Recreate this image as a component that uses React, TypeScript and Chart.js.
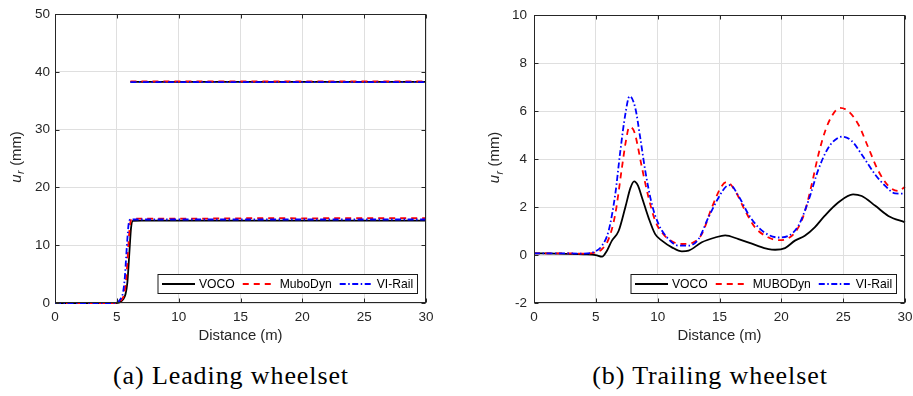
import React, { useEffect, useRef } from "react";
import { Chart, registerables } from "chart.js";

Chart.register(...registerables);

// ---------------- data ----------------
const X_TICKS = [0, 5, 10, 15, 20, 25, 30];
const Y_TICKS_LEAD = [0, 10, 20, 30, 40, 50];
const Y_TICKS_TRAIL = [-2, 0, 2, 4, 6, 8, 10];

const NAMES_LEAD = ["VOCO", "MuboDyn", "VI-Rail"];
const NAMES_TRAIL = ["VOCO", "MUBODyn", "VI-Rail"];

const CAPTION_LEAD = "(a) Leading wheelset";
const CAPTION_TRAIL = "(b) Trailing wheelset";

// (a) Leading wheelset – lower branch
const LEAD_VOCO_X = [0, 4.9, 5.2, 5.5, 5.7, 5.85, 5.95, 6.05, 6.15, 6.3, 7, 10, 15, 20, 25, 30];
const LEAD_VOCO_Y = [0, 0, 0.1, 0.6, 1.5, 3.5, 6.5, 10, 13, 14.2, 14.25, 14.25, 14.25, 14.25, 14.25, 14.25];
const LEAD_MUBO_X = [0, 4.8, 5.1, 5.4, 5.6, 5.75, 5.85, 5.95, 6.05, 6.2, 7, 10, 15, 17.5, 20, 25, 30];
const LEAD_MUBO_Y = [0, 0, 0.1, 0.6, 1.6, 4, 7, 10.5, 13.3, 14.5, 14.6, 14.6, 14.65, 14.7, 14.65, 14.7, 14.7];
const LEAD_VIRAIL_X = [0, 4.7, 5.0, 5.3, 5.5, 5.65, 5.75, 5.85, 5.95, 6.1, 7, 10, 15, 20, 25, 30];
const LEAD_VIRAIL_Y = [0, 0, 0.1, 0.7, 1.8, 4.5, 7.8, 11, 13.6, 14.45, 14.45, 14.45, 14.45, 14.45, 14.45, 14.45];
// (a) Leading wheelset – upper branch
const LEAD_UP_X = [6.1, 30];
const LEAD_UP_VOCO_Y = [38.25, 38.25];
const LEAD_UP_MUBO_Y = [38.35, 38.35];
const LEAD_UP_VIRAIL_Y = [38.2, 38.2];

// (b) Trailing wheelset
const TRAIL_VOCO_X = [0, 2, 4, 5, 5.5, 5.9, 6.3, 6.84, 7.38, 7.8, 8.1, 8.4, 8.73, 9.26, 9.8, 10.34, 11.15, 11.96, 12.5, 13.57, 14.65, 15.46, 16.54, 17.88, 18.96, 19.5, 20.3, 21.1, 21.9, 22.7, 23.5, 24.6, 25.8, 26.5, 27.6, 28.65, 30];
const TRAIL_VOCO_Y = [0.07, 0.06, 0.03, 0.0, -0.07, 0.18, 0.6, 1.0, 1.98, 2.8, 3.07, 2.9, 2.4, 1.56, 0.87, 0.6, 0.32, 0.15, 0.18, 0.53, 0.73, 0.82, 0.66, 0.42, 0.25, 0.22, 0.29, 0.6, 0.8, 1.15, 1.63, 2.19, 2.53, 2.46, 2.05, 1.63, 1.36];
const TRAIL_MUBO_X = [0, 2, 4, 4.95, 5.5, 6.03, 6.57, 7.11, 7.43, 7.7, 8.0, 8.19, 8.73, 9.26, 9.8, 10.34, 11.15, 11.96, 12.77, 13.57, 14.38, 15.19, 15.59, 16.27, 17.08, 17.88, 18.96, 19.77, 20.58, 21.38, 21.92, 22.46, 23.0, 23.54, 24.08, 24.75, 25.42, 26.23, 27.04, 27.85, 28.66, 29.46, 30];
const TRAIL_MUBO_Y = [0.07, 0.07, 0.06, 0.1, 0.25, 0.66, 1.7, 3.64, 4.75, 5.33, 5.25, 5.0, 3.64, 2.4, 1.43, 0.94, 0.57, 0.46, 0.5, 0.87, 1.98, 2.88, 3.04, 2.67, 1.84, 1.15, 0.73, 0.62, 0.7, 1.15, 1.84, 2.95, 4.19, 5.16, 5.79, 6.13, 5.99, 5.44, 4.47, 3.5, 2.88, 2.67, 2.84];
const TRAIL_VIRAIL_X = [0, 2, 4, 4.95, 5.5, 6.03, 6.57, 6.98, 7.38, 7.73, 8.19, 8.59, 9.0, 9.53, 10.07, 10.88, 11.69, 12.5, 13.3, 14.1, 14.92, 15.59, 15.86, 16.54, 17.34, 18.15, 18.96, 19.77, 20.58, 21.38, 22.19, 23.0, 23.8, 24.6, 25.0, 25.7, 26.5, 27.58, 28.4, 29.2, 30];
const TRAIL_VIRAIL_Y = [0.07, 0.07, 0.06, 0.15, 0.39, 1.0, 2.53, 4.33, 5.85, 6.62, 6.13, 4.89, 3.5, 2.12, 1.29, 0.66, 0.39, 0.39, 0.66, 1.56, 2.39, 2.88, 2.91, 2.46, 1.7, 1.15, 0.84, 0.73, 0.8, 1.22, 2.26, 3.57, 4.47, 4.89, 4.93, 4.75, 4.19, 3.36, 2.88, 2.57, 2.56];

// ---------------- styles ----------------
const FONT = '"Liberation Sans", Arial, Helvetica, sans-serif';
const AXIS = "#262626";
const GRID = "#dfdfdf";
const LW = 1.8;
const STYLES = [
  { color: "#000000", dash: [] as number[] },
  { color: "#ff0000", dash: [6, 5] },
  { color: "#0000ff", dash: [6, 2.5, 1.5, 2.5] },
];

const pts = (xs: number[], ys: number[]) => xs.map((x, i) => ({ x, y: ys[i] }));

const framePlugin = {
  id: "matlabFrame",
  afterDraw(chart: any, _args: any, opts: any) {
    const { ctx, chartArea: a, scales } = chart;
    const xs = scales.x;
    const ys = scales.y;
    ctx.save();
    ctx.setLineDash([]);
    ctx.strokeStyle = AXIS;
    ctx.lineWidth = 1;
    const tl = 4;
    const L = Math.round(a.left) + 0.5;
    const R = Math.round(a.right) - 0.5;
    const T = Math.round(a.top) + 0.5;
    const B = Math.round(a.bottom) - 0.5;
    ctx.beginPath();
    xs.ticks.forEach((t: any) => {
      const p = Math.round(xs.getPixelForValue(t.value)) + 0.5;
      ctx.moveTo(p, B);
      ctx.lineTo(p, B - tl);
      ctx.moveTo(p, T);
      ctx.lineTo(p, T + tl);
    });
    ys.ticks.forEach((t: any) => {
      const p = Math.round(ys.getPixelForValue(t.value)) + 0.5;
      ctx.moveTo(L, p);
      ctx.lineTo(L + tl, p);
      ctx.moveTo(R, p);
      ctx.lineTo(R - tl, p);
    });
    ctx.stroke();
    ctx.strokeRect(L, T, R - L, B - T);

    // legend
    const names: string[] = opts.names;
    ctx.font = `12.15px ${FONT}`;
    const widths = names.map((n) => ctx.measureText(n).width);
    const LINE = 33, G1 = 4, G2 = 8, PL = 4, PR = 4, H = 19;
    const w = PL + PR + widths.reduce((s, wi) => s + LINE + G1 + wi, 0) + G2 * (names.length - 1);
    const right = Math.round(a.right - 9) + 0.5;
    const bottom = Math.round(a.bottom - 10) + 0.5;
    const left = Math.round(right - w) + 0.0;
    const top = bottom - H;
    ctx.fillStyle = "#ffffff";
    ctx.fillRect(left, top, right - left, H);
    ctx.strokeStyle = "#1a1a1a";
    ctx.strokeRect(left, top, right - left, H);
    let x = left + PL;
    const cy = top + H / 2;
    names.forEach((n, i) => {
      const st = STYLES[i];
      ctx.beginPath();
      ctx.setLineDash(st.dash);
      ctx.strokeStyle = st.color;
      ctx.lineWidth = LW;
      ctx.moveTo(x, cy);
      ctx.lineTo(x + LINE, cy);
      ctx.stroke();
      ctx.setLineDash([]);
      ctx.fillStyle = "#000000";
      ctx.textAlign = "left";
      ctx.textBaseline = "middle";
      ctx.fillText(n, x + LINE + G1, cy + 0.5);
      x += LINE + G1 + widths[i] + G2;
    });

    // y title: u_r (mm)
    const cx = opts.yTitleX;
    const cyT = (a.top + a.bottom) / 2 - 1.5;
    ctx.translate(cx + 3.8, cyT);
    ctx.rotate(-Math.PI / 2);
    ctx.fillStyle = AXIS;
    ctx.textBaseline = "alphabetic";
    ctx.textAlign = "left";
    const fMain = `14.85px ${FONT}`;
    const fItal = `italic 14.85px ${FONT}`;
    const fSub = `italic 10.5px ${FONT}`;
    ctx.font = fItal;
    const wu = ctx.measureText("u").width;
    ctx.font = fSub;
    const wr = ctx.measureText("r").width;
    ctx.font = fMain;
    const wm = ctx.measureText(" (mm)").width;
    const total = wu + wr + wm + 1;
    let tx = -total / 2;
    ctx.font = fItal;
    ctx.fillText("u", tx, 0);
    tx += wu + 0.5;
    ctx.font = fSub;
    ctx.fillText("r", tx, 3.5);
    tx += wr + 0.5;
    ctx.font = fMain;
    ctx.fillText(" (mm)", tx, 0);
    ctx.restore();
  },
};

type PanelProps = {
  left: number;
  width: number;
  height: number;
  padLeft: number;
  padRight: number;
  yWidth: number;
  yPad: number;
  yMin: number;
  yMax: number;
  yTicks: number[];
  names: string[];
  yTitleX: number;
  datasets: any[];
};

function Panel(p: PanelProps) {
  const ref = useRef<HTMLCanvasElement | null>(null);
  useEffect(() => {
    if (!ref.current) return;
    const chart = new Chart(ref.current, {
      type: "line",
      data: { datasets: p.datasets },
      plugins: [framePlugin as any],
      options: {
        animation: false,
        responsive: false,
        maintainAspectRatio: false,
        devicePixelRatio: 1,
        layout: { padding: { top: 14, right: p.padRight, left: p.padLeft, bottom: 0 } },
        elements: { point: { radius: 0 }, line: { borderWidth: LW } },
        plugins: {
          legend: { display: false },
          tooltip: { enabled: false },
          matlabFrame: { names: p.names, yTitleX: p.yTitleX },
        } as any,
        scales: {
          x: {
            type: "linear",
            min: 0,
            max: 30,
            afterBuildTicks: (s: any) => {
              s.ticks = X_TICKS.map((v) => ({ value: v }));
            },
            afterFit: (s: any) => {
              s.height = 42;
            },
            ticks: { padding: 6, color: AXIS, font: { family: FONT, size: 13.5 }, maxRotation: 0 },
            grid: { color: GRID, drawTicks: false, lineWidth: 1 },
            border: { display: false },
            title: {
              display: true,
              text: "Distance (m)",
              color: AXIS,
              font: { family: FONT, size: 14.85 },
              padding: { top: 0, bottom: 0 },
            },
          },
          y: {
            type: "linear",
            min: p.yMin,
            max: p.yMax,
            afterBuildTicks: (s: any) => {
              s.ticks = p.yTicks.map((v) => ({ value: v }));
            },
            afterFit: (s: any) => {
              s.width = p.yWidth;
            },
            ticks: { padding: p.yPad, color: AXIS, font: { family: FONT, size: 13.5 } },
            grid: { color: GRID, drawTicks: false, lineWidth: 1 },
            border: { display: false },
          },
        },
      } as any,
    });
    return () => chart.destroy();
  }, []);
  return (
    <canvas
      ref={ref}
      width={p.width}
      height={p.height}
      style={{ position: "absolute", left: p.left, top: 0, width: p.width, height: p.height, display: "block" }}
    />
  );
}

const ds = (label: string, xs: number[], ys: number[], i: number) => ({
  label,
  data: pts(xs, ys),
  borderColor: STYLES[i].color,
  borderDash: STYLES[i].dash,
  borderWidth: LW,
  pointRadius: 0,
  fill: false,
  cubicInterpolationMode: "monotone",
  clip: 4,
  order: 2 - i,
});

const LEAD_DATASETS = [
  ds(NAMES_LEAD[0], LEAD_VOCO_X, LEAD_VOCO_Y, 0),
  ds(NAMES_LEAD[1], LEAD_MUBO_X, LEAD_MUBO_Y, 1),
  ds(NAMES_LEAD[2], LEAD_VIRAIL_X, LEAD_VIRAIL_Y, 2),
  ds(NAMES_LEAD[0], LEAD_UP_X, LEAD_UP_VOCO_Y, 0),
  ds(NAMES_LEAD[1], LEAD_UP_X, LEAD_UP_MUBO_Y, 1),
  ds(NAMES_LEAD[2], LEAD_UP_X, LEAD_UP_VIRAIL_Y, 2),
];

const TRAIL_DATASETS = [
  ds(NAMES_TRAIL[0], TRAIL_VOCO_X, TRAIL_VOCO_Y, 0),
  ds(NAMES_TRAIL[1], TRAIL_MUBO_X, TRAIL_MUBO_Y, 1),
  ds(NAMES_TRAIL[2], TRAIL_VIRAIL_X, TRAIL_VIRAIL_Y, 2),
];

const captionStyle = (center: number): React.CSSProperties => ({
  position: "absolute",
  left: center - 200,
  width: 400,
  top: 363,
  height: 26,
  lineHeight: "26px",
  textAlign: "center",
  fontFamily: '"Liberation Serif", "Times New Roman", serif',
  fontSize: 26,
  letterSpacing: "0.9px",
  color: "#000",
  whiteSpace: "nowrap",
});

export default function App() {
  return (
    <div style={{ position: "absolute", left: 0, top: 0, width: 913, height: 396, background: "#fff", overflow: "hidden" }}>
      <Panel
        left={0}
        width={456}
        height={345}
        padLeft={0}
        padRight={30}
        yWidth={55}
        yPad={5}
        yMin={0}
        yMax={50}
        yTicks={Y_TICKS_LEAD}
        names={NAMES_LEAD}
        yTitleX={17}
        datasets={LEAD_DATASETS}
      />
      <Panel
        left={456}
        width={463}
        height={345}
        padLeft={0}
        padRight={14}
        yWidth={78}
        yPad={7}
        yMin={-2}
        yMax={10}
        yTicks={Y_TICKS_TRAIL}
        names={NAMES_TRAIL}
        yTitleX={39.5}
        datasets={TRAIL_DATASETS}
      />
      <div style={captionStyle(231)}>{CAPTION_LEAD}</div>
      <div style={captionStyle(710)}>{CAPTION_TRAIL}</div>
    </div>
  );
}
